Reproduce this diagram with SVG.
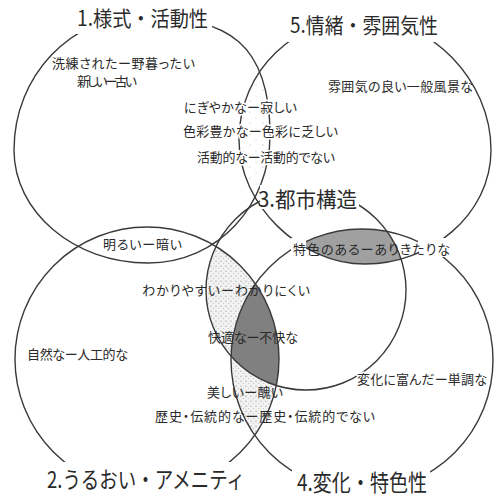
<svg xmlns="http://www.w3.org/2000/svg" width="496" height="498" viewBox="0 0 496 498">
<defs>
<style>
.ring{fill:none;stroke:#3a3a3a;stroke-width:1.4}
.t{font-family:"Noto Sans CJK JP","Noto Sans CJK SC",sans-serif;font-size:13px;fill:#2a2a2a;font-feature-settings:"palt"}
.halo{paint-order:stroke;stroke:#fff;stroke-width:3px;stroke-linejoin:round}
.lbl{font-family:"Noto Sans CJK JP","Noto Sans CJK SC",sans-serif;font-size:21px;fill:#2a2a2a}
.mask{fill:#fff}
</style>
<clipPath id="c1"><path d="M14,150 C14,76 71,16 140,16 C230,16 270,45 270,135 C270,205 218,263 148,263 C74,263 14,212 14,150 Z"/></clipPath>
<clipPath id="c2"><circle cx="147" cy="359" r="132"/></clipPath>
<clipPath id="c3"><circle cx="306" cy="290" r="100"/></clipPath>
<clipPath id="c4"><circle cx="362" cy="360" r="131"/></clipPath>
<clipPath id="c5"><path d="M239,140 C239,70 295,18 364,18 C430,18 491,80 491,150 C491,215 430,264 365,264 C300,264 239,205 239,140 Z"/></clipPath>
<pattern id="dots" width="5" height="5" patternUnits="userSpaceOnUse"><rect width="5" height="5" fill="#f2f2f2"/><circle cx="1" cy="1.2" r="0.6" fill="#9a9a9a"/><circle cx="3.6" cy="3.5" r="0.5" fill="#b0b0b0"/></pattern>
<pattern id="sparse" width="13" height="11" patternUnits="userSpaceOnUse"><circle cx="3" cy="2" r="0.6" fill="#b0b0b0"/><circle cx="9" cy="8" r="0.5" fill="#c0c0c0"/></pattern>
</defs>
<rect width="496" height="498" fill="#fff"/>

<g id="shading">
  <g clip-path="url(#c1)"><path d="M239,140 C239,70 295,18 364,18 C430,18 491,80 491,150 C491,215 430,264 365,264 C300,264 239,205 239,140 Z" fill="url(#sparse)"/></g>
  <g clip-path="url(#c2)">
    <circle cx="306" cy="290" r="100" fill="url(#dots)"/>
    <circle cx="362" cy="360" r="131" fill="url(#dots)"/>
  </g>
  <g clip-path="url(#c2)"><g clip-path="url(#c4)"><circle cx="306" cy="290" r="100" fill="#808080"/></g></g>
  <g clip-path="url(#c5)"><g clip-path="url(#c3)"><circle cx="362" cy="360" r="131" fill="#a0a0a0"/></g></g>
</g>

<g id="node-1">
  <path class="ring" d="M14,150 C14,76 71,16 140,16 C230,16 270,45 270,135 C270,205 218,263 148,263 C74,263 14,212 14,150 Z"/>
  <rect class="mask" x="74" y="4" width="138" height="30"/>
  <text class="lbl" x="77" y="26" textLength="131" lengthAdjust="spacingAndGlyphs">1.様式・活動性</text>
</g>
<g id="node-5">
  <path class="ring" d="M239,140 C239,70 295,18 364,18 C430,18 491,80 491,150 C491,215 430,264 365,264 C300,264 239,205 239,140 Z"/>
  <rect class="mask" x="288" y="10" width="153" height="32"/>
  <text class="lbl" x="290" y="33" textLength="148" lengthAdjust="spacingAndGlyphs">5.情緒・雰囲気性</text>
</g>
<g id="node-2">
  <circle class="ring" cx="147" cy="359" r="132"/>
  <rect class="mask" x="45" y="462" width="202" height="34"/>
  <text class="lbl" x="47" y="488" font-size="23" style="font-size:23px" textLength="198" lengthAdjust="spacingAndGlyphs">2.うるおい・アメニティ</text>
</g>
<g id="node-4">
  <circle class="ring" cx="362" cy="360" r="131"/>
  <rect class="mask" x="292" y="467" width="138" height="31"/>
  <text class="lbl" x="297" y="491" style="font-size:23px" textLength="130" lengthAdjust="spacingAndGlyphs">4.変化・特色性</text>
</g>
<g id="node-3">
  <circle class="ring" cx="306" cy="290" r="100"/>
  <rect class="mask" x="260" y="185" width="99" height="24"/>
  <text class="lbl" x="258" y="207" textLength="99" lengthAdjust="spacingAndGlyphs">3.都市構造</text>
</g>

<g id="connectors"></g>

<g id="pairs">
  <text class="t" x="52" y="68" textLength="143">洗練されたー野暮ったい</text>
  <text class="t" x="77" y="86" textLength="60">新しいー古い</text>
  <text class="t halo" x="184" y="112" textLength="113">にぎやかなー寂しい</text>
  <text class="t halo" x="183" y="136" textLength="155">色彩豊かなー色彩に乏しい</text>
  <text class="t halo" x="197" y="162" textLength="138">活動的なー活動的でない</text>
  <text class="t" x="328" y="91" textLength="145">雰囲気の良い一般風景な</text>
  <text class="t" x="103" y="249" textLength="79">明るいー暗い</text>
  <rect class="mask" x="291" y="238" width="15" height="18"/>
  <rect class="mask" x="418" y="238" width="34" height="19"/>
  <text class="t" x="293" y="254" textLength="157">特色のあるーありきたりな</text>
  <text class="t" x="142" y="295" textLength="168">わかりやすいーわかりにくい</text>
  <text class="t" x="27" y="359" textLength="101">自然なー人工的な</text>
  <text class="t" x="208" y="342" textLength="90">快適なー不快な</text>
  <text class="t halo" x="357" y="384" textLength="130">変化に富んだー単調な</text>
  <text class="t" x="207" y="397" textLength="76">美しいー醜い</text>
  <text class="t" x="155" y="421" textLength="220">歴史・伝統的なー歴史・伝統的でない</text>
</g>
</svg>
